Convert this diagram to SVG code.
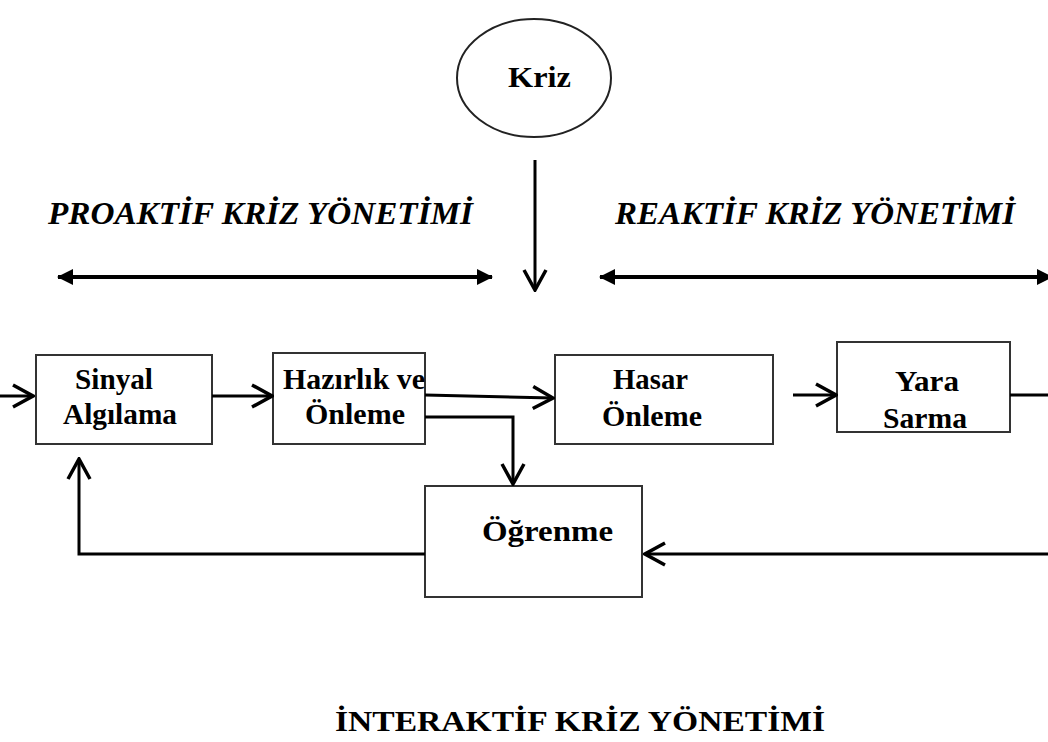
<svg xmlns="http://www.w3.org/2000/svg" width="1048" height="742" viewBox="0 0 1048 742">
<style>
.box{fill:#fff;stroke:#333;stroke-width:2}
.t{font-family:"Liberation Serif","Times New Roman",serif;font-weight:bold;font-size:29px;fill:#000;text-anchor:start}
.h{font-family:"Liberation Serif","Times New Roman",serif;font-weight:bold;font-style:italic;font-size:32px;fill:#000}
.c{fill:none;stroke:#000;stroke-width:3}
.d{fill:none;stroke:#000;stroke-width:4}
</style>
<defs>
<marker id="open" viewBox="0 0 24 26" refX="22" refY="13" markerWidth="24" markerHeight="26" markerUnits="userSpaceOnUse" orient="auto">
<path d="M2,2 L22,13 L2,24" fill="none" stroke="#000" stroke-width="3.5"/>
</marker>
<marker id="solid" viewBox="0 0 16 18" refX="15" refY="9" markerWidth="16" markerHeight="18" markerUnits="userSpaceOnUse" orient="auto-start-reverse">
<path d="M0,1 L16,9 L0,17 Z" fill="#000"/>
</marker>
</defs>
<rect width="1048" height="742" fill="#fff"/>

<g id="kriz">
<ellipse cx="534" cy="78" rx="77" ry="59" fill="#fff" stroke="#222" stroke-width="2"/>
<text class="t" x="508" y="87" textLength="63" lengthAdjust="spacingAndGlyphs" style="font-size:30px">Kriz</text>
</g>

<g id="proaktif-label">
<text class="h" x="48" y="224" textLength="425" lengthAdjust="spacingAndGlyphs">PROAKTİF KRİZ YÖNETİMİ</text>
</g>
<g id="reaktif-label">
<text class="h" x="615" y="224" textLength="400" lengthAdjust="spacingAndGlyphs">REAKTİF KRİZ YÖNETİMİ</text>
</g>

<g id="sinyal">
<rect class="box" x="36" y="355" width="176" height="89"/>
<text class="t" x="75" y="389" textLength="78" lengthAdjust="spacingAndGlyphs">Sinyal</text>
<text class="t" x="63" y="424" textLength="114" lengthAdjust="spacingAndGlyphs">Algılama</text>
</g>
<g id="hazirlik">
<rect class="box" x="273" y="353" width="152" height="91"/>
<text class="t" x="283" y="389" textLength="142" lengthAdjust="spacingAndGlyphs">Hazırlık ve</text>
<text class="t" x="305" y="424" textLength="100" lengthAdjust="spacingAndGlyphs">Önleme</text>
</g>
<g id="hasar">
<rect class="box" x="555" y="355" width="218" height="89"/>
<text class="t" x="613" y="389" textLength="75" lengthAdjust="spacingAndGlyphs">Hasar</text>
<text class="t" x="602" y="426" textLength="100" lengthAdjust="spacingAndGlyphs">Önleme</text>
</g>
<g id="yara">
<rect class="box" x="837" y="342" width="173" height="90"/>
<text class="t" x="895" y="391" textLength="64" lengthAdjust="spacingAndGlyphs">Yara</text>
<text class="t" x="883" y="428" textLength="84" lengthAdjust="spacingAndGlyphs">Sarma</text>
</g>
<g id="ogrenme">
<rect class="box" x="425" y="486" width="217" height="111"/>
<text class="t" x="482" y="541" textLength="131" lengthAdjust="spacingAndGlyphs">Öğrenme</text>
</g>

<g id="title">
<text class="t" x="335" y="731" textLength="490" lengthAdjust="spacingAndGlyphs" style="font-size:30px">İNTERAKTİF  KRİZ YÖNETİMİ</text>
</g>

<g id="connectors">
<line class="c" x1="535" y1="160" x2="535" y2="290" marker-end="url(#open)"/>
<line class="d" x1="58" y1="277" x2="492" y2="277" marker-start="url(#solid)" marker-end="url(#solid)"/>
<line class="d" x1="600" y1="277" x2="1052" y2="277" marker-start="url(#solid)" marker-end="url(#solid)"/>
<line class="c" x1="0" y1="396" x2="33" y2="396" marker-end="url(#open)"/>
<line class="c" x1="212" y1="396" x2="272" y2="396" marker-end="url(#open)"/>
<polyline class="c" points="425,395 553,398" marker-end="url(#open)"/>
<polyline class="c" points="425,417 513,417 513,484" marker-end="url(#open)"/>
<line class="c" x1="793" y1="395" x2="836" y2="395" marker-end="url(#open)"/>
<line class="c" x1="1010" y1="395" x2="1048" y2="395"/>
<line class="c" x1="1048" y1="554" x2="645" y2="554" marker-end="url(#open)"/>
<polyline class="c" points="425,554 79,554 79,459" marker-end="url(#open)"/>
</g>
</svg>
